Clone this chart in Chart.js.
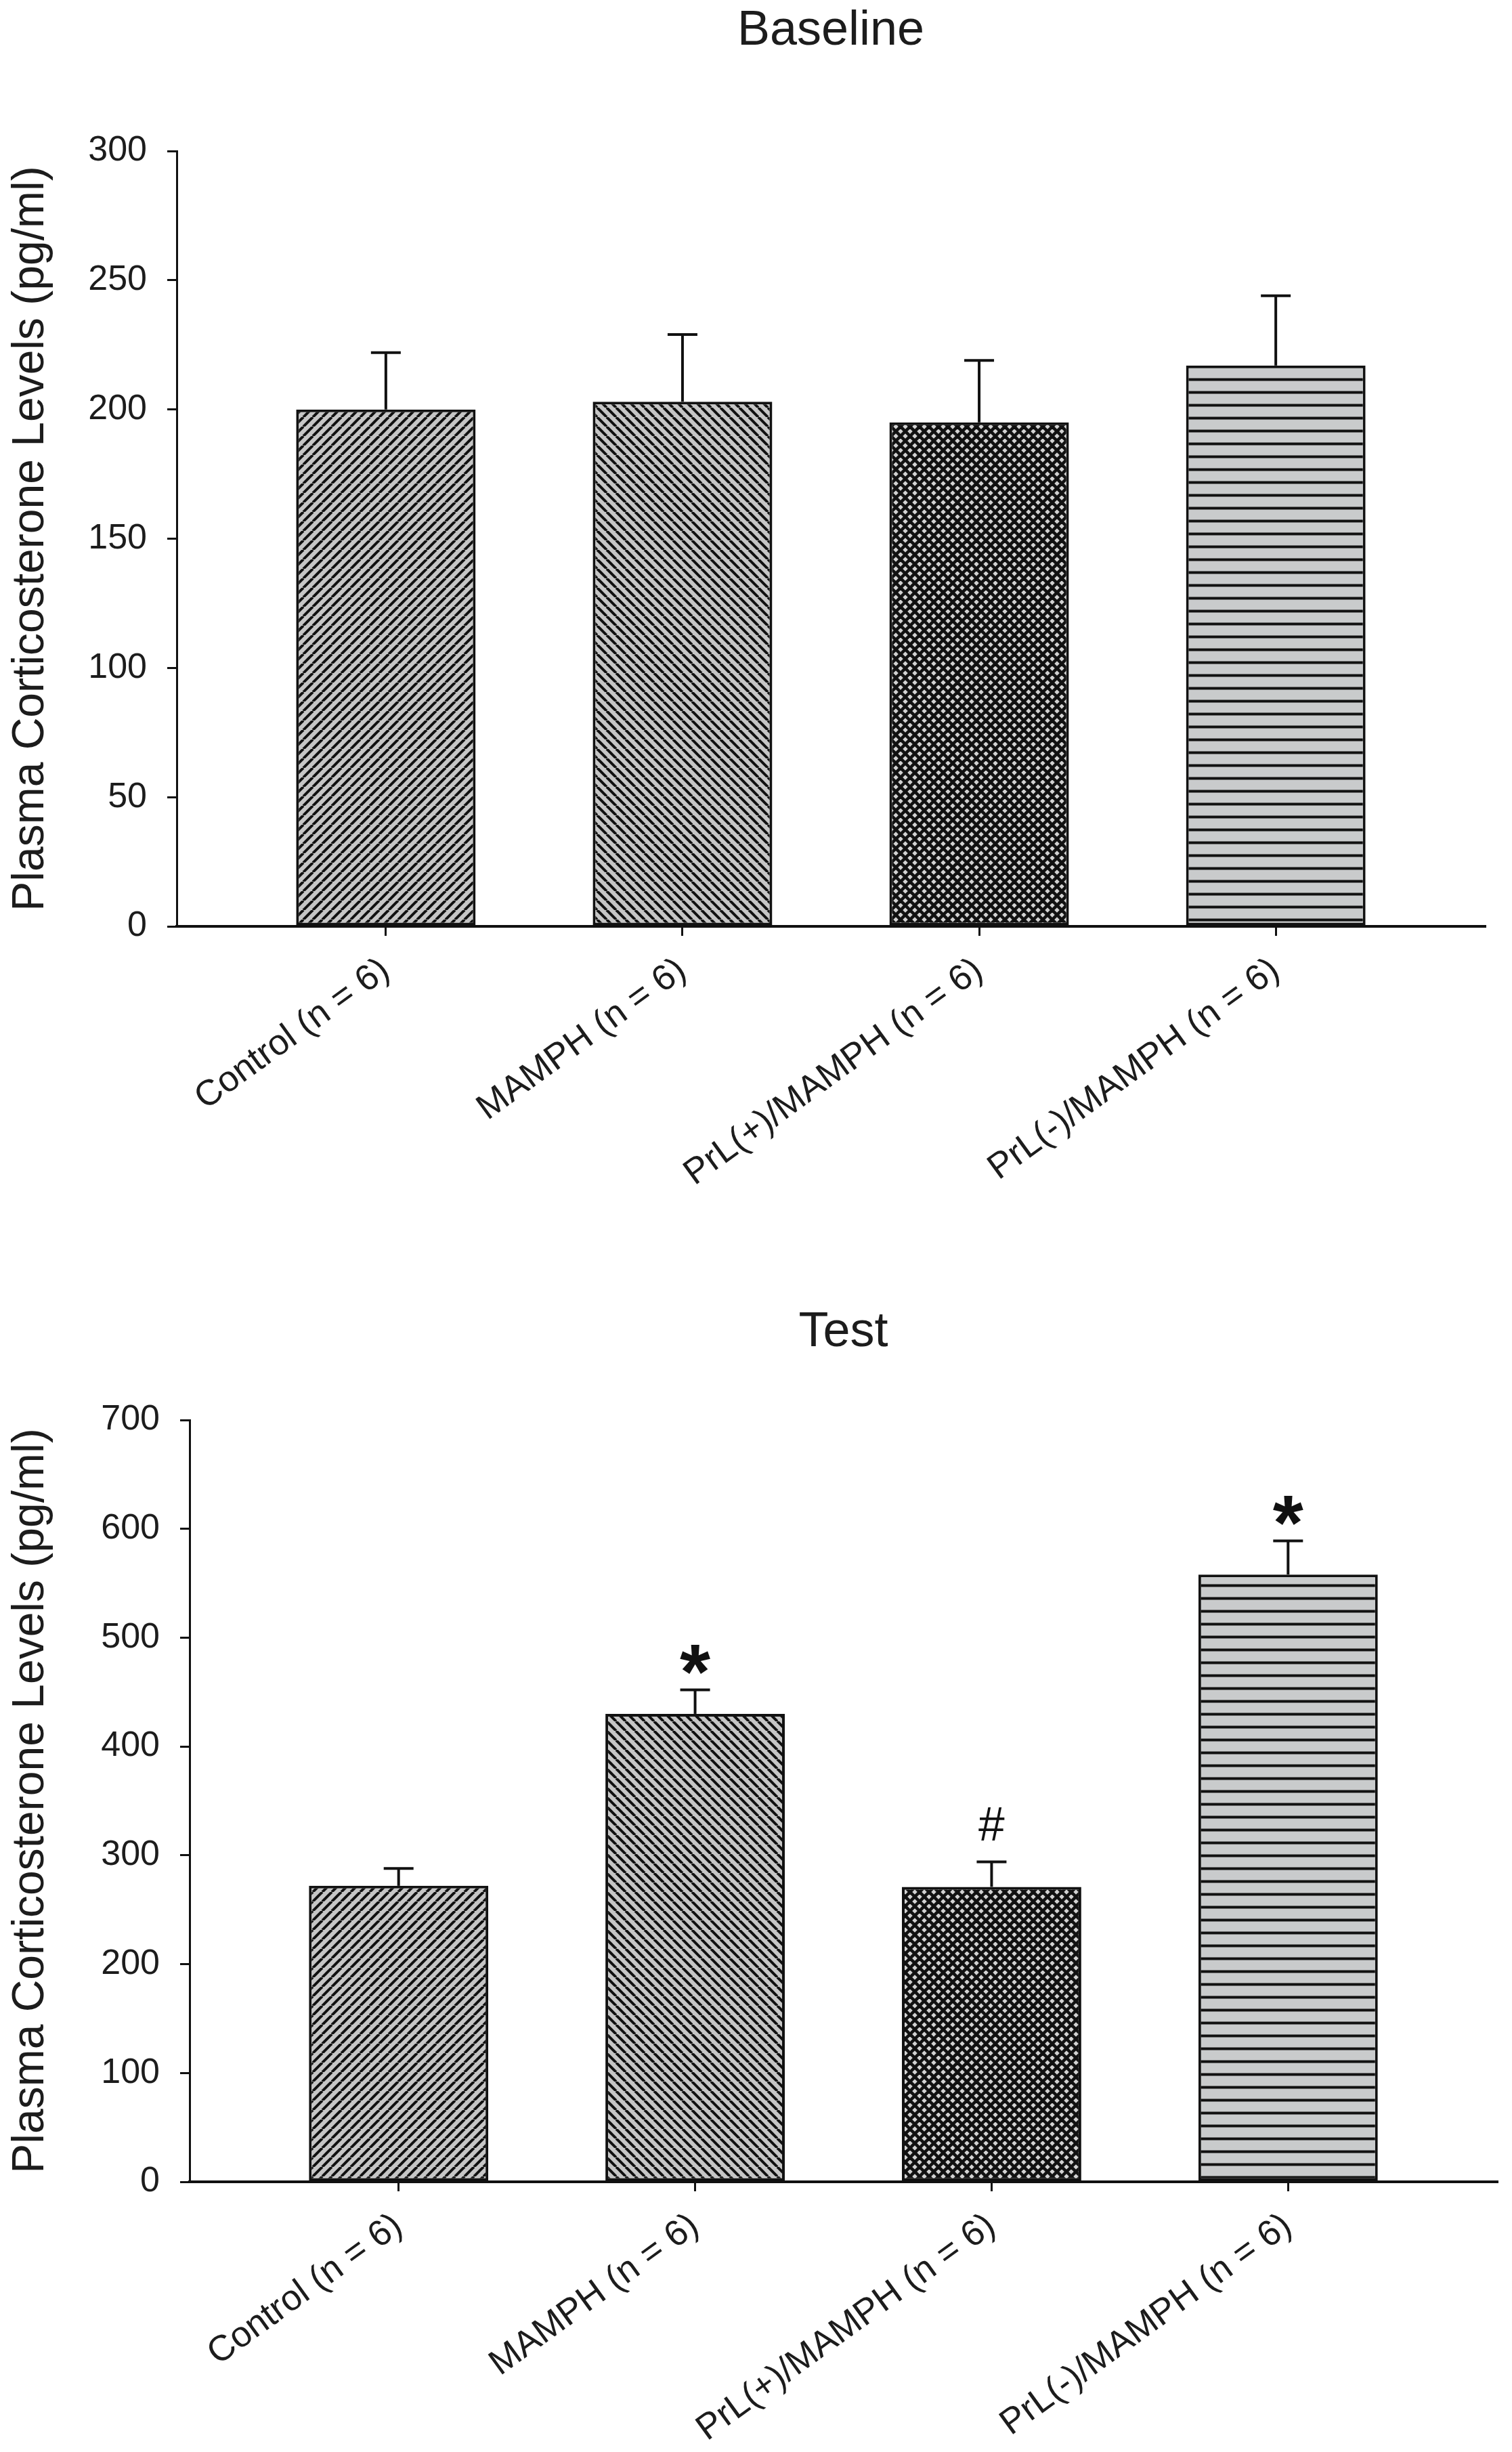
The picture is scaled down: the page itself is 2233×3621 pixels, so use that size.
<!DOCTYPE html>
<html><head><meta charset="utf-8">
<script src="https://cdn.jsdelivr.net/npm/chart.js@4.4.1/dist/chart.umd.min.js"></script>
<style>
html,body{margin:0;padding:0;background:#fff;width:2233px;height:3621px;overflow:hidden;}
.wrap{position:absolute;left:0;width:2233px;}
canvas{display:block;}
</style></head><body>
<div class="wrap" style="top:0;height:1800px;"><canvas id="c1" width="2233" height="1800"></canvas></div>
<div class="wrap" style="top:1800px;height:1821px;"><canvas id="c2" width="2233" height="1821"></canvas></div>
<script>
// ---- data ----
const categories = ['Control (n = 6)', 'MAMPH (n = 6)', 'PrL(+)/MAMPH (n = 6)', 'PrL(-)/MAMPH (n = 6)'];
const baselineMeans = [200, 203, 195, 217];
const baselineSEM = [22, 26, 24, 27];
const baselineMarks = ['', '', '', ''];
const testMeans = [272, 430, 271, 558];
const testSEM = [16, 22, 23, 31];
const testMarks = ['', '*', '#', '*'];
const yAxisTitle = 'Plasma Corticosterone Levels (pg/ml)';

// ---- styling helpers ----
const FONT = "'Liberation Sans', Arial, Helvetica, sans-serif";
const INK = '#1c1c1c';

function makePattern(kind) {
  const P = kind === 'horiz' ? 19 : 14;
  const c = document.createElement('canvas');
  c.width = P; c.height = P;
  const g = c.getContext('2d');
  g.fillStyle = kind === 'horiz' ? '#c9cbcc' : (kind === 'cross' ? '#d2d2d2' : '#c6c6c6');
  g.fillRect(0, 0, P, P);
  g.strokeStyle = '#111';
  g.lineCap = 'butt';
  if (kind === 'up' || kind === 'cross') {
    g.lineWidth = kind === 'cross' ? 4.6 : 4;
    for (let k = -1; k <= 1; k++) { g.beginPath(); g.moveTo(k * P, P); g.lineTo(k * P + P, 0); g.stroke(); }
  }
  if (kind === 'down' || kind === 'cross') {
    g.lineWidth = kind === 'cross' ? 4.6 : 4;
    for (let k = -1; k <= 1; k++) { g.beginPath(); g.moveTo(k * P, 0); g.lineTo(k * P + P, P); g.stroke(); }
  }
  if (kind === 'horiz') {
    g.lineWidth = 4;
    g.beginPath(); g.moveTo(0, P / 2); g.lineTo(P, P / 2); g.stroke();
  }
  return g.createPattern(c, 'repeat');
}

const errorBarPlugin = {
  id: 'errbars',
  afterDatasetsDraw(chart, args, opts) {
    const ctx = chart.ctx;
    const meta = chart.getDatasetMeta(0);
    const ys = chart.scales.y;
    const ds = chart.data.datasets[0];
    ctx.save();
    ctx.strokeStyle = '#111';
    ctx.lineWidth = 4;
    meta.data.forEach((bar, i) => {
      const v = ds.data[i].y;
      const yTop = ys.getPixelForValue(v + opts.errors[i]);
      ctx.beginPath(); ctx.moveTo(bar.x, bar.y); ctx.lineTo(bar.x, yTop); ctx.stroke();
      ctx.beginPath(); ctx.moveTo(bar.x - 22, yTop); ctx.lineTo(bar.x + 22, yTop); ctx.stroke();
      const m = opts.marks[i];
      if (m) {
        const spec = opts.markStyle[m];
        ctx.font = spec.weight + ' 100px ' + FONT;
        const mt = ctx.measureText(m);
        const h100 = mt.actualBoundingBoxAscent + mt.actualBoundingBoxDescent;
        const size = 100 * spec.height / h100;
        ctx.font = spec.weight + ' ' + size + 'px ' + FONT;
        const m2 = ctx.measureText(m);
        const center = yTop - spec.gap;
        const base = center - (m2.actualBoundingBoxDescent - m2.actualBoundingBoxAscent) / 2;
        ctx.fillStyle = '#111';
        ctx.textAlign = 'center';
        ctx.textBaseline = 'alphabetic';
        ctx.fillText(m, bar.x, base);
      }
    });
    ctx.restore();
  }
};

function buildChart(canvasId, title, means, sems, marks, yMax, yStep, geo) {
  const patterns = [makePattern('up'), makePattern('down'), makePattern('cross'), makePattern('horiz')];
  return new Chart(document.getElementById(canvasId), {
    type: 'bar',
    data: {
      datasets: [{
        data: means.map((v, i) => ({ x: i, y: v })),
        backgroundColor: patterns,
        borderColor: '#111',
        borderWidth: 4,
        borderSkipped: false,
        categoryPercentage: 1.0,
        barPercentage: 0.605
      }]
    },
    plugins: [errorBarPlugin],
    options: {
      responsive: false,
      devicePixelRatio: 1,
      animation: false,
      events: [],
      layout: { padding: { left: 0, right: geo.right, top: 0, bottom: 0 } },
      plugins: {
        legend: { display: false },
        tooltip: { enabled: false },
        title: {
          display: true, text: title, color: INK, fullSize: false,
          font: { family: FONT, size: 72, weight: 'normal', lineHeight: 1.2 },
          padding: { top: geo.titleTop, bottom: geo.titleBottom }
        },
        errbars: {
          errors: sems, marks: marks,
          markStyle: { '*': { weight: 'bold', height: 44, gap: 45 }, '#': { weight: 'normal', height: 48, gap: 56 } }
        }
      },
      scales: {
        x: {
          type: 'linear', min: -0.705, max: 3.705, offset: false,
          afterBuildTicks: s => { s.ticks = categories.map((c, i) => ({ value: i })); },
          afterFit: s => { s.height = geo.xHeight; },
          ticks: {
            callback: v => categories[v],
            autoSkip: false, minRotation: 36, maxRotation: 36, padding: 20,
            color: INK, font: { family: FONT, size: 53 }
          },
          grid: { offset: false, drawOnChartArea: false, drawTicks: true, tickLength: 14, tickWidth: 3, tickColor: '#111', color: '#111', lineWidth: 3 },
          border: { display: true, color: '#111', width: 4 }
        },
        y: {
          min: 0, max: yMax,
          afterFit: s => { s.width = geo.yWidth; },
          ticks: { stepSize: yStep, padding: 30, color: INK, font: { family: FONT, size: 52 } },
          grid: { drawOnChartArea: false, drawTicks: true, tickLength: 14, tickWidth: 3, tickColor: '#111', color: '#111', lineWidth: 3 },
          border: { display: true, color: '#111', width: 3 },
          title: {
            display: true, text: yAxisTitle, color: INK,
            font: { family: FONT, size: 66, lineHeight: 1.2 },
            padding: { top: 6, bottom: 0 }
          }
        }
      }
    }
  });
}

buildChart('c1', 'Baseline', baselineMeans, baselineSEM, baselineMarks, 300, 50,
  { right: 40, titleTop: 3, titleBottom: 133.6, xHeight: 432, yWidth: 261 });
buildChart('c2', 'Test', testMeans, testSEM, testMarks, 700, 100,
  { right: 22, titleTop: 125, titleBottom: 85.6, xHeight: 399, yWidth: 280 });
</script>
</body></html>
